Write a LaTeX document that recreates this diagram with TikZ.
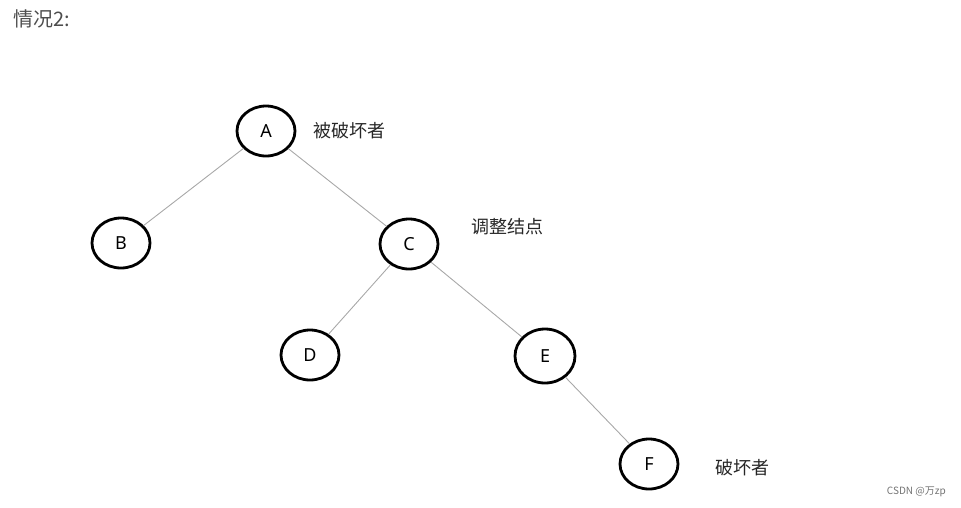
\documentclass[tikz,border=0pt]{standalone}
\usepackage{fontspec}
\setmainfont{Noto Sans}
\newfontfamily\cjk{Noto Sans CJK SC}
\usetikzlibrary{shapes.geometric}
\definecolor{edgegray}{HTML}{A8A8A8}
\definecolor{titlegray}{HTML}{4D4D4D}
\tikzset{
  treenode/.style={ellipse,draw=black,line width=2.8pt,minimum width=58pt,minimum height=50pt,inner sep=0pt,font=\fontsize{18}{18}\selectfont},
  treeedge/.style={draw=edgegray,line width=0.9pt},
  note/.style={font=\cjk\fontsize{18}{18}\selectfont,text=black!85}
}
\begin{document}
\begin{tikzpicture}[x=1pt,y=-1pt]
                \useasboundingbox (0,0) rectangle (961,507);
                %% title
                \node[anchor=west,inner sep=0pt,font=\cjk\fontsize{20}{20}\selectfont,text=titlegray] (title) at (13,19) {情况2:};
                %% nodes
                \node[treenode] (A) at (266,131) {A};
                \node[treenode] (B) at (121,243) {B};
                \node[treenode] (C) at (409,244) {C};
                \node[treenode] (D) at (310,355) {D};
                \node[treenode,minimum width=60pt,minimum height=54pt] (E) at (545,356) {E};
                \node[treenode] (F) at (649,464) {F};
                %% edges
                \draw[treeedge] (A) -- (B);
                \draw[treeedge] (A) -- (C);
                \draw[treeedge] (C) -- (D);
                \draw[treeedge] (C) -- (E);
                \draw[treeedge] (E) -- (F);
                %% notes
                \node[note,anchor=west] (noteA) at (310,131) {被破坏者};
                \node[note,anchor=west] (noteC) at (468,227) {调整结点};
                \node[note,anchor=west] (noteF) at (712,468) {破坏者};
                %% watermark
                \node[anchor=east,inner sep=0pt,font=\cjk\fontsize{10}{10}\selectfont,text=black!55] (mark) at (946,492) {CSDN @万zp};
            \end{tikzpicture}
\end{document}
